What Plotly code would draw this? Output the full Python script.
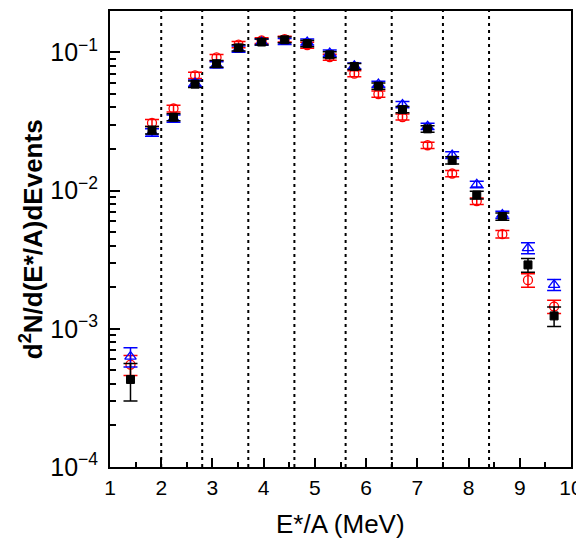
import plotly.graph_objects as go

x = [1.4, 1.82, 2.24, 2.66, 3.08, 3.51, 3.96, 4.41, 4.85, 5.29, 5.77, 6.24, 6.71, 7.20, 7.68, 8.16, 8.66, 9.16, 9.67]

black_y = [0.00043, 0.0274, 0.034, 0.059, 0.0828, 0.108, 0.119, 0.1235, 0.116, 0.0962, 0.0792, 0.0571, 0.0386, 0.028, 0.0166, 0.0093, 0.0065, 0.0029, 0.00124]
black_err = [0.00013, 0.0017, 0.002, 0.0032, 0.0045, 0.0055, 0.006, 0.006, 0.0058, 0.0048, 0.004, 0.003, 0.002, 0.0015, 0.001, 0.0006, 0.0004, 0.00033, 0.0002]

red_y = [0.00055, 0.0309, 0.0393, 0.0683, 0.092, 0.114, 0.122, 0.125, 0.113, 0.0925, 0.0702, 0.050, 0.0341, 0.0213, 0.0133, 0.0084, 0.00484, 0.00225, 0.00145]
red_err = [0.00009, 0.0018, 0.0022, 0.0035, 0.0048, 0.0058, 0.006, 0.006, 0.0056, 0.0046, 0.0036, 0.0026, 0.0017, 0.0011, 0.0007, 0.00045, 0.0003, 0.00025, 0.00016]

blue_y = [0.00063, 0.0264, 0.0332, 0.060, 0.0815, 0.106, 0.119, 0.12, 0.119, 0.099, 0.080, 0.059, 0.042, 0.0292, 0.0181, 0.0111, 0.0067, 0.00384, 0.00208]
blue_err = [0.0001, 0.0016, 0.002, 0.0031, 0.0043, 0.0055, 0.006, 0.006, 0.006, 0.005, 0.004, 0.003, 0.0022, 0.0015, 0.001, 0.0006, 0.0004, 0.00035, 0.00019]

bin_edges = [2.0, 2.8, 3.7, 4.6, 5.6, 6.5, 7.5, 8.4]

x_title = "E*/A (MeV)"
y_title = "<b>d<sup>2</sup>N/d(E*/A)dEvents</b>"

FONT = "Liberation Sans, Arial, Helvetica, sans-serif"

fig = go.Figure()

for xe in bin_edges:
    fig.add_shape(type="line", xref="x", yref="paper", x0=xe, x1=xe, y0=0, y1=1,
                  line=dict(color="black", width=2, dash="3px,4px"), layer="below")

def add_series(yv, err, color, symbol, size, lw):
    fig.add_trace(go.Scatter(
        x=x, y=yv, mode="markers",
        marker=dict(symbol=symbol, size=size, color=color,
                    line=dict(color=color, width=lw)),
        error_y=dict(type="data", array=err, visible=True, color=color,
                     thickness=1.5, width=7),
        showlegend=False,
    ))

add_series(red_y, red_err, "red", "circle-open", 9, 1.3)
add_series(blue_y, blue_err, "blue", "triangle-up-open", 10, 1.3)
add_series(black_y, black_err, "black", "square", 8, 1)

# page body has an 8px margin; shrink figure so the plot area lands where the reference has it
fig.update_layout(
    width=576, height=531,
    margin=dict(l=102, r=6, t=1, b=72),
    paper_bgcolor="white", plot_bgcolor="white",
    font=dict(family=FONT, size=20, color="black"),
    showlegend=False,
)

fig.update_xaxes(
    range=[1, 10], dtick=1, tick0=1,
    showgrid=False, zeroline=False,
    showline=True, linecolor="black", linewidth=2, mirror=True,
    ticks="inside", ticklen=9, tickwidth=2, tickcolor="black",
    minor=dict(ticks="inside", ticklen=5, tickwidth=2, dtick=0.5, tick0=1, tickcolor="black", showgrid=False),
    tickfont=dict(size=21),
    ticklabelstandoff=1,
    ticklabeloverflow="allow",
)

fig.update_yaxes(
    type="log", range=[-4, -0.70], dtick=1,
    exponentformat="power", showexponent="all",
    showgrid=False, zeroline=False,
    showline=True, linecolor="black", linewidth=2, mirror=True,
    ticks="inside", ticklen=10, tickwidth=2, tickcolor="black",
    minor=dict(ticks="inside", ticklen=6, tickwidth=2, dtick="D1", tickcolor="black", showgrid=False),
    tickfont=dict(size=20),
    ticklabelstandoff=6,
    ticklabeloverflow="allow",
)

fig.add_annotation(text=x_title, xref="paper", yref="paper", x=0.5, y=-0.125,
                   xanchor="center", yanchor="middle", showarrow=False,
                   font=dict(size=26, family=FONT))
fig.add_annotation(text=y_title, xref="paper", yref="paper", x=(30 - 110) / 468, y=0.5,
                   xanchor="center", yanchor="middle", showarrow=False, textangle=-90,
                   font=dict(size=26, family=FONT))

fig.write_html("out.html")
